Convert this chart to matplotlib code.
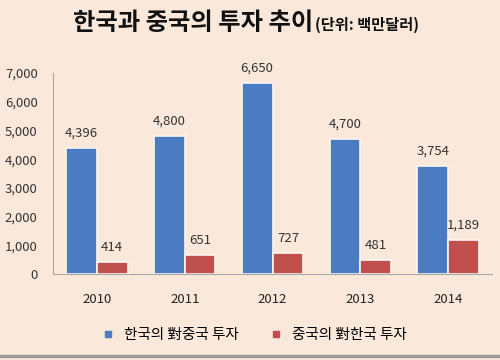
import matplotlib.pyplot as plt
import numpy as np
from matplotlib.lines import Line2D

plt.rcParams['font.family'] = ['Noto Sans CJK KR', 'DejaVu Sans']

years = ['2010', '2011', '2012', '2013', '2014']
korea_to_china = [4396, 4800, 6650, 4700, 3754]
china_to_korea = [414, 651, 727, 481, 1189]
series_names = ['한국의 對중국 투자', '중국의 對한국 투자']

bg = '#fae9da'
blue = '#4a7bc3'
red = '#c0504d'

fig = plt.figure(figsize=(5, 3.6), dpi=100, facecolor=bg)
ax = fig.add_axes([0.106, 0.239, 0.878, 0.558], facecolor=bg)

x = np.arange(len(years))
w = 0.35
b1 = ax.bar(x - w / 2, korea_to_china, w, color=blue, edgecolor='#fdf6f0', linewidth=1.2)
b2 = ax.bar(x + w / 2, china_to_korea, w, color=red, edgecolor='#fdf6f0', linewidth=1.2)

for bars in (b1, b2):
    for r in bars:
        h = r.get_height()
        ax.annotate(f'{h:,}', (r.get_x() + r.get_width() / 2, h), xytext=(0, 6),
                    textcoords='offset points', ha='center', va='bottom',
                    fontsize=9.5, color='#333333')

ax.set_xlim(-0.5, 4.5)
ax.set_ylim(0, 7000)
ax.set_yticks(range(0, 7001, 1000))
ax.set_yticklabels([f'{v:,}' for v in range(0, 7001, 1000)], fontsize=9.5, color='#333333')
ax.set_xticks(x)
ax.set_xticklabels(years, fontsize=9.5, color='#222222')
ax.tick_params(axis='both', length=0)
ax.tick_params(axis='x', pad=14)
ax.tick_params(axis='y', pad=11)
for s in ['top', 'right']:
    ax.spines[s].set_visible(False)
ax.spines['left'].set_color('#a8a8a8')
ax.spines['bottom'].set_color('#a8a8a8')

title = fig.text(0.146, 0.935, '한국과 중국의 투자 추이', fontsize=17.5, fontweight='bold',
                 ha='left', va='center', color='#111111')
ax.annotate('(단위: 백만달러)', xy=(1, 0.12), xycoords=title, xytext=(1, 0),
            textcoords='offset points', ha='left', va='bottom',
            fontsize=11, fontweight='bold', color='#111111')

handles = [Line2D([], [], marker='s', linestyle='none', color=blue, markersize=5),
           Line2D([], [], marker='s', linestyle='none', color=red, markersize=5)]
fig.legend(handles, series_names, loc='center', bbox_to_anchor=(0.5, 0.07), ncol=2,
           frameon=False, fontsize=10.5, handletextpad=0.05, columnspacing=1.6)

fig.add_artist(Line2D([0, 1], [0.012, 0.012], color='#9a9a9a', linewidth=2.5,
                      transform=fig.transFigure))

fig.savefig('out.png', dpi=100, facecolor=bg)
